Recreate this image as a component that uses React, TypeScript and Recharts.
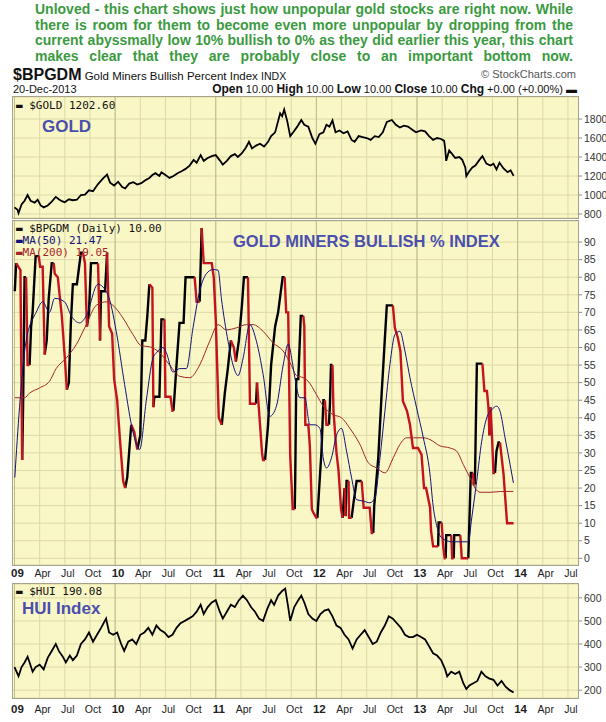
import React from "react";
import { ComposedChart, Line, XAxis, YAxis, CartesianGrid, ReferenceLine } from "recharts";

// ---------- DATA ----------
const goldX = [2009.0,2009.03,2009.04,2009.07,2009.1,2009.13,2009.16,2009.2,2009.23,2009.26,2009.29,2009.33,2009.37,2009.41,2009.44,2009.47,2009.5,2009.54,2009.58,2009.62,2009.66,2009.7,2009.74,2009.78,2009.83,2009.88,2009.92,2009.95,2009.99,2010.03,2010.07,2010.1,2010.14,2010.18,2010.22,2010.26,2010.3,2010.34,2010.37,2010.4,2010.44,2010.46,2010.5,2010.54,2010.58,2010.62,2010.66,2010.7,2010.74,2010.78,2010.81,2010.85,2010.88,2010.92,2010.96,2011.0,2011.04,2011.07,2011.11,2011.15,2011.19,2011.22,2011.26,2011.3,2011.33,2011.36,2011.4,2011.44,2011.48,2011.52,2011.55,2011.59,2011.62,2011.64,2011.66,2011.68,2011.71,2011.74,2011.77,2011.81,2011.85,2011.88,2011.92,2011.96,2011.99,2012.03,2012.07,2012.1,2012.13,2012.16,2012.19,2012.23,2012.27,2012.31,2012.35,2012.38,2012.42,2012.46,2012.5,2012.54,2012.58,2012.62,2012.66,2012.7,2012.75,2012.79,2012.83,2012.87,2012.91,2012.95,2012.99,2013.04,2013.08,2013.12,2013.16,2013.2,2013.24,2013.27,2013.28,2013.29,2013.32,2013.35,2013.38,2013.42,2013.45,2013.48,2013.49,2013.52,2013.55,2013.58,2013.62,2013.65,2013.69,2013.73,2013.76,2013.79,2013.82,2013.86,2013.9,2013.93,2013.96];
const goldV = [870,845,810,900,940,1000,940,920,950,890,870,890,930,980,955,935,925,955,945,950,1000,1005,1050,1040,1115,1175,1215,1130,1100,1140,1085,1070,1120,1135,1110,1125,1155,1180,1210,1230,1200,1240,1210,1180,1200,1230,1250,1275,1310,1370,1340,1420,1360,1390,1410,1420,1365,1320,1360,1410,1430,1400,1440,1500,1560,1490,1520,1540,1510,1560,1620,1660,1780,1860,1830,1900,1780,1620,1660,1720,1790,1740,1720,1600,1540,1640,1660,1740,1720,1785,1660,1680,1650,1670,1580,1560,1620,1610,1600,1580,1620,1610,1660,1770,1790,1740,1710,1730,1720,1690,1660,1680,1670,1620,1580,1600,1590,1570,1490,1360,1470,1430,1390,1400,1370,1290,1200,1250,1290,1310,1370,1410,1330,1310,1330,1270,1340,1280,1240,1260,1202];

const bpX = [2009.003,2009.016,2009.059,2009.076,2009.085,2009.1,2009.115,2009.13,2009.15,2009.165,2009.18,2009.21,2009.24,2009.255,2009.28,2009.3,2009.32,2009.34,2009.37,2009.39,2009.4,2009.43,2009.47,2009.5,2009.52,2009.54,2009.56,2009.58,2009.62,2009.66,2009.68,2009.7,2009.72,2009.74,2009.76,2009.83,2009.85,2009.86,2009.9,2009.92,2009.94,2009.97,2009.99,2010.02,2010.05,2010.08,2010.1,2010.12,2010.16,2010.19,2010.22,2010.25,2010.27,2010.3,2010.32,2010.34,2010.37,2010.38,2010.39,2010.44,2010.46,2010.49,2010.5,2010.55,2010.57,2010.58,2010.61,2010.64,2010.68,2010.7,2010.79,2010.81,2010.84,2010.86,2010.88,2010.96,2010.98,2011.0,2011.03,2011.06,2011.09,2011.12,2011.15,2011.18,2011.2,2011.23,2011.26,2011.28,2011.32,2011.34,2011.4,2011.41,2011.43,2011.46,2011.47,2011.49,2011.52,2011.55,2011.59,2011.62,2011.665,2011.685,2011.7,2011.72,2011.74,2011.765,2011.785,2011.79,2011.8,2011.82,2011.845,2011.87,2011.88,2011.89,2011.92,2011.935,2011.955,2011.97,2012.0,2012.01,2012.03,2012.05,2012.07,2012.085,2012.1,2012.125,2012.135,2012.145,2012.16,2012.17,2012.2,2012.22,2012.245,2012.26,2012.28,2012.29,2012.3,2012.32,2012.325,2012.35,2012.37,2012.4,2012.45,2012.47,2012.53,2012.55,2012.565,2012.575,2012.615,2012.65,2012.7,2012.76,2012.78,2012.81,2012.835,2012.86,2012.9,2012.93,2012.96,2013.01,2013.045,2013.07,2013.09,2013.13,2013.14,2013.16,2013.21,2013.215,2013.245,2013.26,2013.275,2013.285,2013.29,2013.34,2013.35,2013.365,2013.37,2013.43,2013.445,2013.51,2013.52,2013.535,2013.555,2013.565,2013.575,2013.595,2013.65,2013.67,2013.695,2013.71,2013.72,2013.73,2013.745,2013.76,2013.775,2013.79,2013.81,2013.825,2013.84,2013.86,2013.895,2013.96];
const bpV = [76,84,82,28,43,80,80,55,55,66,70,86,86,83,83,58,62,74,84,84,81,80,69,57,48,50,67,78,78,87,87,84,66,70,84,84,62,76,76,87,66,64,51,45,33,22,20,23,38,36,31,35,62,62,69,78,77,43,46,46,68,68,46,46,42,42,55,67,67,80,80,73,73,94,84,84,80,68,40,38,47,54,62,60,56,62,72,80,80,44,44,50,42,30,28,28,38,55,66,70,80,80,70,70,29,14,14,23,51,51,69,69,66,38,38,32,14,13,11.5,11.5,21,30,45,45,38,38,44,55,55,42,30,25,14,11.5,20,12,22,22,11.5,11.5,16,22,22,14.4,14.4,7.2,7.2,15,28.6,47.6,72,72,65.6,62.7,59,44.7,42,38,31.4,31.4,29.5,20,20,14.4,7.7,3.4,3.4,10.2,10.2,3.4,0,0,6.6,6.6,0,0,6.6,6.6,0,0,10,24.3,24.3,21,21,55.4,55.4,47.6,47.6,43,35,43,35,24.3,24.3,30.5,33,33,29,24,10,10];

const ma50X = [2009.003,2009.05,2009.116,2009.215,2009.28,2009.348,2009.398,2009.497,2009.564,2009.647,2009.713,2009.829,2009.928,2010.011,2010.094,2010.177,2010.244,2010.31,2010.376,2010.41,2010.476,2010.509,2010.575,2010.642,2010.708,2010.774,2010.84,2010.907,2010.973,2011.023,2011.056,2011.122,2011.172,2011.222,2011.272,2011.338,2011.404,2011.471,2011.537,2011.603,2011.67,2011.72,2011.76,2011.786,2011.836,2011.885,2011.935,2011.985,2012.035,2012.068,2012.101,2012.15,2012.2,2012.25,2012.3,2012.35,2012.4,2012.466,2012.532,2012.582,2012.632,2012.681,2012.731,2012.781,2012.83,2012.88,2012.93,2012.996,2013.063,2013.129,2013.16,2013.195,2013.228,2013.278,2013.345,2013.428,2013.51,2013.544,2013.593,2013.643,2013.693,2013.743,2013.792,2013.826,2013.875,2013.925,2013.958];
const ma50V = [23,43,62,70,73,70,74,73,69,67,69,78,75,64.6,49.5,36,31,45,57,58.5,60,58.5,53,54,54,65.6,76,81,82.2,82,74,61.8,55,52,57,66.5,61.8,52.3,40.4,43.3,55,61,56,51.4,45.7,45.7,38,38,37,28.6,25.7,28.6,35,37,30.5,22.9,16.7,16.3,15.8,17.2,28.6,41.9,55.2,63.7,64.6,59,51.4,42.8,34.3,24,15,9.4,6.5,5.2,4.7,4.7,4.7,11.5,21.9,33.3,40,42.3,43.3,41.8,34.3,26.7,21.47];

const ma200X = [2009.003,2009.1,2009.149,2009.249,2009.348,2009.414,2009.514,2009.613,2009.713,2009.812,2009.912,2009.978,2010.078,2010.177,2010.26,2010.343,2010.443,2010.542,2010.642,2010.741,2010.84,2010.94,2011.023,2011.106,2011.205,2011.305,2011.371,2011.471,2011.57,2011.67,2011.75,2011.802,2011.869,2011.918,2012.001,2012.068,2012.167,2012.25,2012.333,2012.433,2012.516,2012.6,2012.681,2012.764,2012.83,2012.897,2012.963,2013.063,2013.129,2013.228,2013.328,2013.394,2013.46,2013.527,2013.577,2013.627,2013.726,2013.826,2013.958];
const ma200V = [45.7,45.7,47,48.5,50.4,54,57,60.8,66.5,72,73,72,68.4,63.7,60.5,60.2,58.5,55,51.8,51.4,55,61.8,66.5,65,65.6,66.5,66.5,64.6,61.3,59,55,52,51.4,50.4,46.6,43.3,40.9,40,37,32.4,27.2,25.7,24.3,28.6,32.4,34.3,34.3,34.3,33.8,32,31.4,30.5,26.7,22.9,20,18.8,18.8,19,19.05];

const huiX = [2009.0,2009.02,2009.04,2009.07,2009.1,2009.13,2009.15,2009.18,2009.21,2009.25,2009.29,2009.33,2009.37,2009.41,2009.44,2009.48,2009.51,2009.55,2009.58,2009.62,2009.66,2009.7,2009.74,2009.78,2009.82,2009.86,2009.91,2009.94,2009.98,2010.02,2010.06,2010.09,2010.13,2010.17,2010.21,2010.25,2010.29,2010.33,2010.37,2010.41,2010.45,2010.49,2010.53,2010.57,2010.61,2010.65,2010.69,2010.73,2010.77,2010.81,2010.85,2010.88,2010.92,2010.96,2011.0,2011.04,2011.07,2011.11,2011.15,2011.19,2011.23,2011.27,2011.31,2011.35,2011.39,2011.43,2011.47,2011.51,2011.55,2011.58,2011.62,2011.66,2011.69,2011.72,2011.74,2011.78,2011.82,2011.85,2011.88,2011.92,2011.96,2012.0,2012.04,2012.08,2012.12,2012.16,2012.2,2012.24,2012.28,2012.32,2012.36,2012.4,2012.44,2012.48,2012.52,2012.56,2012.6,2012.64,2012.68,2012.72,2012.76,2012.8,2012.84,2012.88,2012.92,2012.96,2013.0,2013.04,2013.08,2013.12,2013.16,2013.2,2013.24,2013.28,2013.3,2013.34,2013.38,2013.42,2013.46,2013.49,2013.52,2013.56,2013.6,2013.64,2013.68,2013.72,2013.76,2013.8,2013.84,2013.88,2013.92,2013.96];
const huiV = [300,280,260,300,320,345,320,280,300,310,290,340,370,400,370,345,320,350,330,350,400,420,450,410,440,470,510,450,440,450,400,370,410,420,400,440,450,470,440,480,460,450,430,440,470,490,500,510,520,540,570,530,560,580,590,540,510,540,570,560,590,610,590,560,540,510,500,550,590,570,610,630,640,560,500,560,590,610,580,530,510,500,530,545,550,520,480,470,440,420,380,420,440,460,430,400,410,450,480,520,510,490,470,440,430,430,440,430,420,390,360,350,330,290,260,280,270,280,230,205,220,230,240,280,260,250,245,220,240,215,200,190];

const quarterTicks = [2009,2009.25,2009.5,2009.75,2010,2010.25,2010.5,2010.75,2011,2011.25,2011.5,2011.75,2012,2012.25,2012.5,2012.75,2013,2013.25,2013.5,2013.75,2014,2014.25,2014.5];
const yearTicks = [2009,2010,2011,2012,2013,2014];
const monthLabels = ["", "Apr", "Jul", "Oct"];
const goldTicks = [800,1000,1200,1400,1600,1800];
const bpTicks = [0,5,10,15,20,25,30,35,40,45,50,55,60,65,70,75,80,85,90];
const huiTicks = [200,300,400,500,600];

const noteLines = [
  "Unloved - this chart shows just how unpopular gold stocks are right now. While",
  "there is room for them to become even more unpopular by dropping from the",
  "current abyssmally low 10%  bullish to 0%  as they did earlier this year, this chart",
  "makes clear that they are probably close to an important bottom now.",
];

// ---------- BUILD TABLES ----------
const toRows = (xs: number[], vs: number[]) => xs.map((x, i) => ({ x, v: vs[i] }));
const goldData = toRows(goldX, goldV);
const huiData = toRows(huiX, huiV);
const ma50Data = toRows(ma50X, ma50V);
const ma200Data = toRows(ma200X, ma200V);

function splitRuns(xs: number[], vs: number[]) {
  const up: { x: number; v: number | null }[] = [];
  const down: { x: number; v: number | null }[] = [];
  let dir = vs[1] >= vs[0] ? 1 : -1;
  let run: { x: number; v: number | null }[] = [{ x: xs[0], v: vs[0] }];
  const flush = () => {
    const target = dir > 0 ? up : down;
    run.forEach((p) => target.push(p));
    target.push({ x: run[run.length - 1].x, v: null });
  };
  for (let i = 1; i < xs.length; i++) {
    const d = vs[i] > vs[i - 1] ? 1 : vs[i] < vs[i - 1] ? -1 : dir;
    if (d !== dir) {
      flush();
      run = [{ x: xs[i - 1], v: vs[i - 1] }];
      dir = d;
    }
    run.push({ x: xs[i], v: vs[i] });
  }
  flush();
  return { up, down };
}
const bpRuns = splitRuns(bpX, bpV);

// ---------- STYLE ----------
const X_DOMAIN: [number, number] = [2008.985, 2014.6];
const PANEL_BG = "#faf7c6";
const GRID = "#dcd9a9";
const YEAR_GRID = "#bebb8e";
const BORDER = "#a6a38a";
const FONT = "'Liberation Sans', Arial, sans-serif";
const MONO = "'DejaVu Sans Mono', monospace";
const TITLE_BLUE = "#4a4fae";
const RED = "#c3141d";

const XTick = (props: any) => {
  const { x, y, payload, shift = 0 } = props;
  const v = payload.value;
  const yr = Math.floor(v + 1e-6);
  const q = Math.round((v - yr) * 4);
  const label = q === 0 ? String(yr).slice(2) : monthLabels[q];
  return (
    <text x={x + 3} y={y + 4 + shift} textAnchor="middle" fontSize={q === 0 ? 11.5 : 10.5} fontWeight={q === 0 ? "bold" : "normal"} fill="#222" fontFamily={FONT}>
      {label}
    </text>
  );
};

const yTick = { fontSize: 10.5, fill: "#333", fontFamily: FONT };

const PLOT_LEFT = 13;
const PLOT_W = 565;
const AXIS_W = 28;
const PAD_L = 10;

function Panel(props: { top: number; height: number; children: React.ReactNode }) {
  const { top, height, children } = props;
  return (
    <>
      <div style={{ position: "absolute", left: PLOT_LEFT, top, width: PLOT_W, height, background: PANEL_BG }} />
      {children}
      <div style={{ position: "absolute", left: PLOT_LEFT - 1, top: top - 1, width: PLOT_W, height, border: `1px solid ${BORDER}`, pointerEvents: "none" }} />
    </>
  );
}

const yearLines = yearTicks.map((t) => (
  <ReferenceLine key={"y" + t} x={t} stroke={YEAR_GRID} strokeWidth={1} ifOverflow="discard" />
));
const quarterLines = quarterTicks.map((t) => (
  <ReferenceLine key={"q" + t} x={t} stroke={GRID} strokeWidth={1} ifOverflow="discard" />
));

export default function App() {
  const GOLD_TOP = 97, GOLD_H = 121;
  const BP_TOP = 221, BP_H = 344;
  const HUI_TOP = 584, HUI_H = 114;
  return (
    <div style={{ position: "absolute", left: 0, top: 0, width: 606, height: 722, background: "#fff", overflow: "hidden", fontFamily: FONT }}>
      {/* annotation */}
      <div style={{ position: "absolute", left: 35, top: 2, width: 538, color: "#3b9a41", fontWeight: "bold", fontSize: 14, lineHeight: "15.6px" }}>
        {noteLines.map((l, i) => (
          <div key={i} style={{ textAlign: "justify", textAlignLast: "justify", whiteSpace: "normal" }}>{l}</div>
        ))}
      </div>

      {/* header */}
      <div style={{ position: "absolute", left: 13, top: 66, fontSize: 11.5, color: "#111", whiteSpace: "nowrap" }}>
        <span style={{ fontWeight: "bold", fontSize: 16 }}>$BPGDM</span> Gold Miners Bullish Percent Index <span style={{ fontSize: 10.5 }}>INDX</span>
      </div>
      <div style={{ position: "absolute", right: 30, top: 68, fontSize: 11, color: "#555", whiteSpace: "nowrap" }}>© StockCharts.com</div>
      <div style={{ position: "absolute", left: 13, top: 83, fontSize: 11, color: "#111" }}>20-Dec-2013</div>
      <div style={{ position: "absolute", right: 29, top: 82, fontSize: 11, color: "#111", whiteSpace: "nowrap" }}>
        <b style={{ fontSize: 12 }}>Open</b> 10.00 <b style={{ fontSize: 12 }}>High</b> 10.00 <b style={{ fontSize: 12 }}>Low</b> 10.00 <b style={{ fontSize: 12 }}>Close</b> 10.00 <b style={{ fontSize: 12 }}>Chg</b> +0.00 (+0.00%) ▬
      </div>

      {/* GOLD panel */}
      <Panel top={GOLD_TOP} height={GOLD_H}>
        <div style={{ position: "absolute", left: PLOT_LEFT - PAD_L, top: GOLD_TOP }}>
          <ComposedChart width={PAD_L + PLOT_W + AXIS_W} height={GOLD_H + 6} margin={{ top: 0, right: 0, bottom: 6, left: PAD_L }}>
            <CartesianGrid vertical={false} stroke={GRID} />
            {quarterLines}
            {yearLines}
            <XAxis dataKey="x" type="number" domain={X_DOMAIN} allowDataOverflow ticks={quarterTicks} hide />
            <YAxis orientation="right" width={AXIS_W} domain={[758, 2032]} ticks={goldTicks} allowDataOverflow axisLine={false} tickLine={{ stroke: "#888" }} tickSize={4} tick={yTick} interval={0} />
            <Line data={goldData} dataKey="v" type="linear" stroke="#000" strokeWidth={1.8} dot={false} isAnimationActive={false} />
          </ComposedChart>
        </div>
        <div style={{ position: "absolute", left: 16, top: 99, fontFamily: MONO, fontSize: 11, color: "#111" }}>▬ $GOLD 1202.60</div>
        <div style={{ position: "absolute", left: 42, top: 117, fontWeight: "bold", fontSize: 17, color: TITLE_BLUE }}>GOLD</div>
      </Panel>

      {/* BPGDM panel */}
      <Panel top={BP_TOP} height={BP_H}>
        <div style={{ position: "absolute", left: PLOT_LEFT - PAD_L, top: BP_TOP }}>
          <ComposedChart width={PAD_L + PLOT_W + AXIS_W} height={BP_H + 20} margin={{ top: 0, right: 0, bottom: 0, left: PAD_L }}>
            <CartesianGrid vertical={false} stroke={GRID} />
            {quarterLines}
            {yearLines}
            <XAxis dataKey="x" type="number" domain={X_DOMAIN} allowDataOverflow ticks={quarterTicks} interval={0} height={20} axisLine={false} tickLine={false} tick={<XTick />} />
            <YAxis orientation="right" width={AXIS_W} domain={[-1.9, 96]} ticks={bpTicks} allowDataOverflow axisLine={false} tickLine={{ stroke: "#888" }} tickSize={4} tick={yTick} interval={0} />
            <Line data={bpRuns.up} dataKey="v" type="linear" stroke="#000" strokeWidth={2.4} dot={false} connectNulls={false} isAnimationActive={false} />
            <Line data={bpRuns.down} dataKey="v" type="linear" stroke={RED} strokeWidth={2.4} dot={false} connectNulls={false} isAnimationActive={false} />
            <Line data={ma200Data} dataKey="v" type="monotone" stroke="#a3262a" strokeWidth={1} dot={false} isAnimationActive={false} />
            <Line data={ma50Data} dataKey="v" type="monotone" stroke="#12127a" strokeWidth={1} dot={false} isAnimationActive={false} />
          </ComposedChart>
        </div>
        <div style={{ position: "absolute", left: 16, top: 223, fontFamily: MONO, fontSize: 11, lineHeight: "12px", whiteSpace: "nowrap" }}>
          <div style={{ color: "#111" }}>▬ $BPGDM (Daily) 10.00</div>
          <div style={{ color: "#12127a" }}>▬MA(50) 21.47</div>
          <div style={{ color: "#a3262a" }}>▬MA(200) 19.05</div>
        </div>
        <div style={{ position: "absolute", left: 233, top: 232, fontWeight: "bold", fontSize: 16.5, color: TITLE_BLUE, whiteSpace: "nowrap" }}>GOLD MINERS BULLISH % INDEX</div>
      </Panel>

      {/* HUI panel */}
      <Panel top={HUI_TOP} height={HUI_H}>
        <div style={{ position: "absolute", left: PLOT_LEFT - PAD_L, top: HUI_TOP }}>
          <ComposedChart width={PAD_L + PLOT_W + AXIS_W} height={HUI_H + 24} margin={{ top: 0, right: 0, bottom: 0, left: PAD_L }}>
            <CartesianGrid vertical={false} stroke={GRID} />
            {quarterLines}
            {yearLines}
            <XAxis dataKey="x" type="number" domain={X_DOMAIN} allowDataOverflow ticks={quarterTicks} interval={0} height={24} axisLine={false} tickLine={false} tick={<XTick shift={3} />} />
            <YAxis orientation="right" width={AXIS_W} domain={[166, 660]} ticks={huiTicks} allowDataOverflow axisLine={false} tickLine={{ stroke: "#888" }} tickSize={4} tick={yTick} interval={0} />
            <Line data={huiData} dataKey="v" type="linear" stroke="#000" strokeWidth={1.8} dot={false} isAnimationActive={false} />
          </ComposedChart>
        </div>
        <div style={{ position: "absolute", left: 16, top: 585, fontFamily: MONO, fontSize: 11, lineHeight: "13px", color: "#111" }}>▬ $HUI 190.08</div>
        <div style={{ position: "absolute", left: 22, top: 599, fontWeight: "bold", fontSize: 17, lineHeight: "19px", color: TITLE_BLUE }}>HUI Index</div>
      </Panel>
    </div>
  );
}
